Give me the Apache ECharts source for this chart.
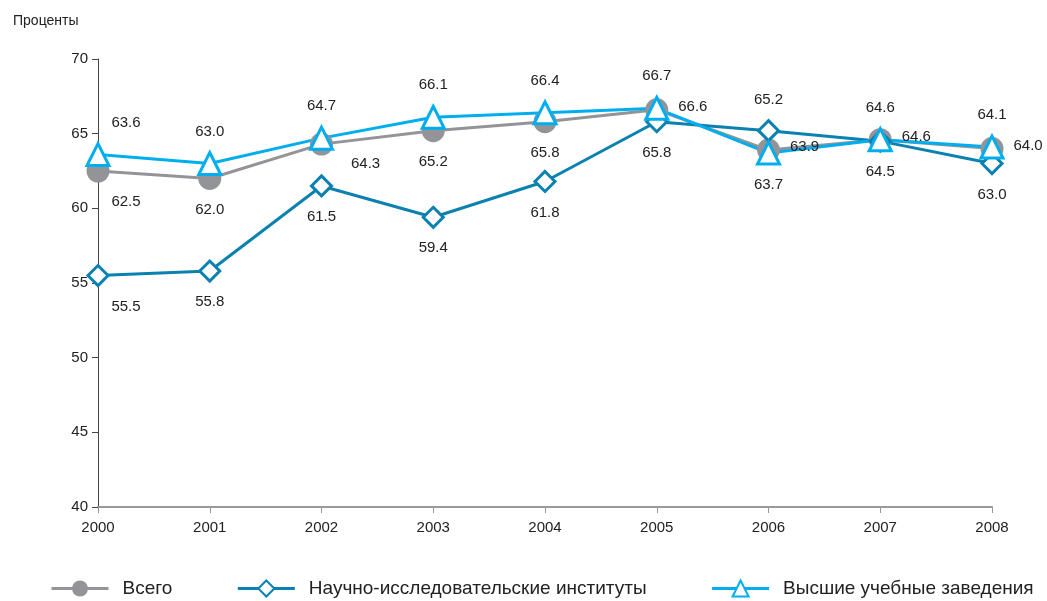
<!DOCTYPE html>
<html>
<head>
<meta charset="utf-8">
<script src="https://cdn.jsdelivr.net/npm/echarts@6/dist/echarts.min.js"></script>
<style>
  html, body { margin: 0; padding: 0; background: #fff; }
  #chart { width: 1047px; height: 601px; }
</style>
</head>
<body>
<div id="chart"></div>
<script>
var years = ["2000", "2001", "2002", "2003", "2004", "2005", "2006", "2007", "2008"];
var seriesNames = ["Всего", "Научно-исследовательские институты", "Высшие учебные заведения"];
var totalVals = [62.5, 62.0, 64.3, 65.2, 65.8, 66.6, 63.9, 64.6, 64.0];
var instVals = [55.5, 55.8, 61.5, 59.4, 61.8, 65.8, 65.2, 64.5, 63.0];
var univVals = [63.6, 63.0, 64.7, 66.1, 66.4, 66.7, 63.7, 64.6, 64.1];

// label placement per point (style only)
var totalPos = ["bottom", "bottom", "br", "bottom", "bottom", "right", "right", "right", "right"];
var instPos = ["bottom", "bottom", "bottom", "bottom", "bottom", "bottom", "top", "bottom", "bottom"];
var univPos = ["top", "top", "top", "top", "top", "top", "bottom", "top", "top"];

var FONT = "'Liberation Sans', Arial, sans-serif";

function labelFor(pos, i) {
  var l = { show: true, position: pos, distance: 12 };
  if (pos === "br") {
    l.position = "right";
    l.offset = [6, 20];
  } else if (pos === "right") {
    l.distance = 10;
    l.offset = [0, -3];
  }
  if (i === 0) {
    l.offset = [28, 0];
  }
  return l;
}

function buildData(vals, pos) {
  var out = [];
  for (var i = 0; i < vals.length; i++) {
    out.push({ value: vals[i], label: labelFor(pos[i], i) });
  }
  return out;
}

function fmt(p) {
  return Number(p.value).toFixed(1);
}

var chart = echarts.init(document.getElementById("chart"));
var option = {
  animation: false,
  textStyle: { fontFamily: FONT },
  title: {
    text: "Проценты",
    left: 8,
    top: 9,
    textStyle: { fontFamily: FONT, fontSize: 14, fontWeight: "normal", color: "#222" }
  },
  grid: { left: 98, right: 55, top: 59, bottom: 94 },
  legend: {
    left: 45,
    top: 574,
    itemWidth: 57,
    itemHeight: 20,
    itemGap: 64,
    lineStyle: { width: 3 },
    textStyle: { fontFamily: FONT, fontSize: 19, color: "#222", padding: [0, 0, 0, 9] },
    data: seriesNames
  },
  xAxis: {
    type: "category",
    data: years,
    boundaryGap: false,
    axisLine: { lineStyle: { color: "#999", width: 2 } },
    axisTick: { show: true, length: 6, lineStyle: { color: "#999" } },
    axisLabel: { fontFamily: FONT, fontSize: 15, color: "#222", margin: 13 },
    splitLine: { show: false }
  },
  yAxis: {
    type: "value",
    min: 40,
    max: 70,
    interval: 5,
    axisLine: { show: true, lineStyle: { color: "#444", width: 1 } },
    axisTick: { show: true, length: 6, lineStyle: { color: "#444" } },
    axisLabel: { fontFamily: FONT, fontSize: 15, color: "#222", margin: 10 },
    splitLine: { show: false }
  },
  series: [
    {
      name: seriesNames[0],
      type: "line",
      data: buildData(totalVals, totalPos),
      symbol: "circle",
      symbolSize: 23,
      lineStyle: { color: "#939498", width: 3 },
      itemStyle: { color: "#939498", borderWidth: 0 },
      label: { fontFamily: FONT, fontSize: 15, color: "#222", formatter: fmt }
    },
    {
      name: seriesNames[1],
      type: "line",
      data: buildData(instVals, instPos),
      symbol: "diamond",
      symbolSize: 20,
      lineStyle: { color: "#0a81b1", width: 3 },
      itemStyle: { color: "#ffffff", borderColor: "#0a81b1", borderWidth: 3 },
      label: { fontFamily: FONT, fontSize: 15, color: "#222", formatter: fmt }
    },
    {
      name: seriesNames[2],
      type: "line",
      data: buildData(univVals, univPos),
      symbol: "triangle",
      symbolSize: 22,
      lineStyle: { color: "#00aeef", width: 3 },
      itemStyle: { color: "#ffffff", borderColor: "#00aeef", borderWidth: 3 },
      label: { fontFamily: FONT, fontSize: 15, color: "#222", formatter: fmt }
    }
  ]
};
chart.setOption(option);
</script>
</body>
</html>
